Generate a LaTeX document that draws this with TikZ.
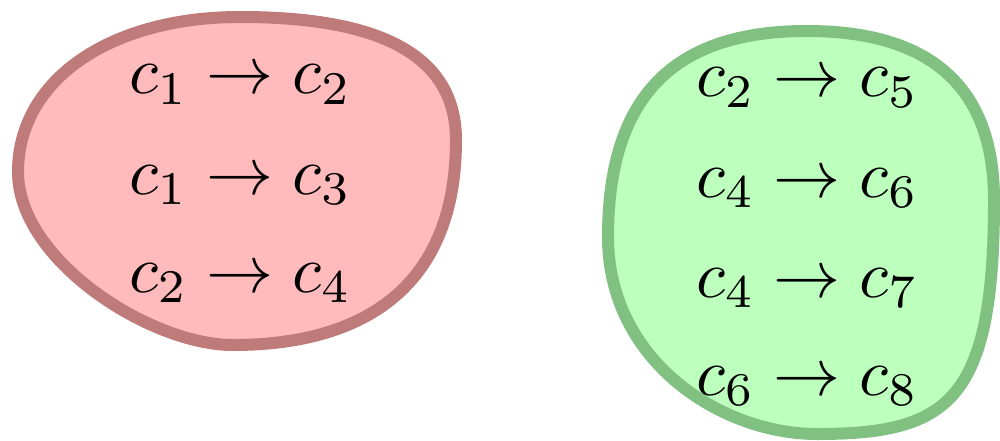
\documentclass[tikz,border=0pt]{standalone}
\usepackage{tikz}
\definecolor{redfill}{RGB}{255,187,187}
\definecolor{redline}{RGB}{191,122,122}
\definecolor{greenfill}{RGB}{189,255,189}
\definecolor{greenline}{RGB}{128,192,128}
\tikzset{
  blob/.style={line width=12pt, line join=round},
  rule/.style={anchor=base west, inner sep=0pt, outer sep=0pt},
}
\newcommand{\rl}[1]{\scalebox{6.7}{$#1$}}
\begin{document}
\begin{tikzpicture}[x=1pt,y=-1pt]
\useasboundingbox (0,0) rectangle (1000,441);
\clip (0,0) rectangle (1000,441);
% red blob
\draw[blob, draw=redline, fill=redfill]
  (240,17) .. controls (350,17) and (456,40) .. (456,140)
  .. controls (456,290) and (360,345) .. (233,345)
  .. controls (150,345) and (18,260) .. (18,172)
  .. controls (18,80) and (110,17) .. cycle;
% green blob
\draw[blob, draw=greenline, fill=greenfill]
  (807,31) .. controls (910,31) and (994,70) .. (994,200)
  .. controls (994,400) and (950,434) .. (817,434)
  .. controls (720,434) and (608,360) .. (608,237)
  .. controls (608,90) and (680,31) .. cycle;
% red rules
\node[rule] (r1) at (129,94)  {\rl{c_1\to c_2}};
\node[rule] (r2) at (129,194) {\rl{c_1\to c_3}};
\node[rule] (r3) at (129,292) {\rl{c_2\to c_4}};
% green rules
\node[rule] (g1) at (696,97)  {\rl{c_2\to c_5}};
\node[rule] (g2) at (696,197) {\rl{c_4\to c_6}};
\node[rule] (g3) at (696,297) {\rl{c_4\to c_7}};
\node[rule] (g4) at (696,395) {\rl{c_6\to c_8}};
\end{tikzpicture}
\end{document}
